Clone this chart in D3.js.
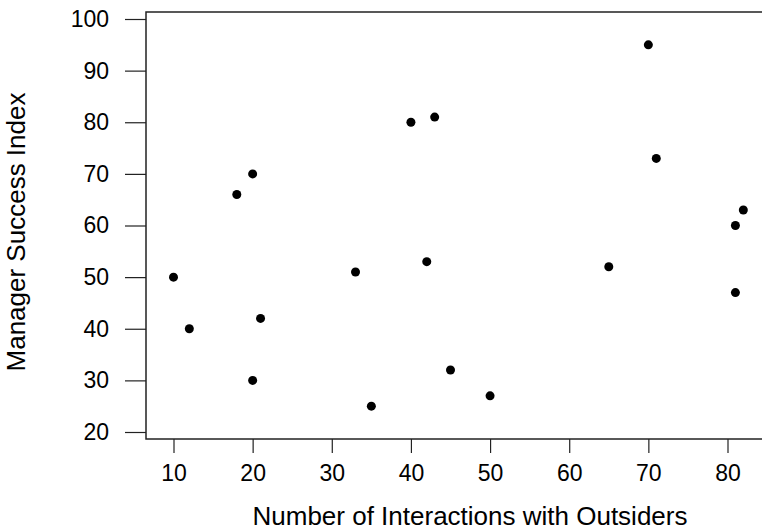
<!DOCTYPE html>
<html>
<head>
<meta charset="utf-8">
<script src="https://cdn.jsdelivr.net/npm/d3@7"></script>
<style>
  html, body { margin: 0; padding: 0; background: #fff; }
  svg { display: block; font-family: "Liberation Sans", Arial, sans-serif; }
</style>
</head>
<body>
<svg id="chart" width="762" height="531"></svg>
<script>
const interactions = [10, 12, 18, 20, 20, 21, 33, 35, 40, 42, 43, 45, 50, 65, 70, 71, 81, 81, 82];
const successIndex = [50, 40, 66, 70, 30, 42, 51, 25, 80, 53, 81, 32, 27, 52, 95, 73, 60, 47, 63];
const xTicks = [10, 20, 30, 40, 50, 60, 70, 80];
const yTicks = [20, 30, 40, 50, 60, 70, 80, 90, 100];
const xTitle = "Number of Interactions with Outsiders";
const yTitle = "Manager Success Index";

const svg = d3.select("#chart");
const box = { left: 146, top: 12, right: 765, bottom: 439 };

const x = d3.scaleLinear().domain([10, 80]).range([173.5, 727.5]);
const y = d3.scaleLinear().domain([20, 100]).range([432, 19]);

const tickFont = 23;
const titleFont = 26;

// y axis
const yAxis = svg.append("g")
  .attr("transform", `translate(${box.left},0)`)
  .call(d3.axisLeft(y).tickValues(yTicks).tickSize(21).tickPadding(16).tickFormat(d3.format("d")));
yAxis.select(".domain").remove();
yAxis.selectAll(".tick line").attr("stroke", "#222").attr("stroke-width", 1.2);
yAxis.selectAll(".tick text").attr("font-size", tickFont).attr("fill", "#000")
  .attr("font-family", "Liberation Sans, Arial, sans-serif");

// x axis
const xAxis = svg.append("g")
  .attr("transform", `translate(0,${box.bottom})`)
  .call(d3.axisBottom(x).tickValues(xTicks).tickSize(14).tickPadding(12).tickFormat(d3.format("d")));
xAxis.select(".domain").remove();
xAxis.selectAll(".tick line").attr("stroke", "#222").attr("stroke-width", 1.2);
xAxis.selectAll(".tick text").attr("font-size", tickFont).attr("fill", "#000")
  .attr("font-family", "Liberation Sans, Arial, sans-serif");

// frame
svg.append("rect")
  .attr("x", box.left).attr("y", box.top)
  .attr("width", box.right - box.left).attr("height", box.bottom - box.top)
  .attr("fill", "none").attr("stroke", "#222").attr("stroke-width", 1.5);

// points
svg.append("g").selectAll("circle")
  .data(interactions.map((v, i) => [v, successIndex[i]]))
  .join("circle")
  .attr("cx", d => x(d[0]))
  .attr("cy", d => y(d[1]))
  .attr("r", 4.5)
  .attr("fill", "#000");

// titles
svg.append("text")
  .attr("x", 470)
  .attr("y", 524.5)
  .attr("text-anchor", "middle")
  .attr("font-size", titleFont)
  .attr("fill", "#000")
  .text(xTitle);

svg.append("text")
  .attr("transform", `translate(25,232) rotate(-90)`)
  .attr("text-anchor", "middle")
  .attr("font-size", titleFont)
  .attr("fill", "#000")
  .text(yTitle);
</script>
</body>
</html>
